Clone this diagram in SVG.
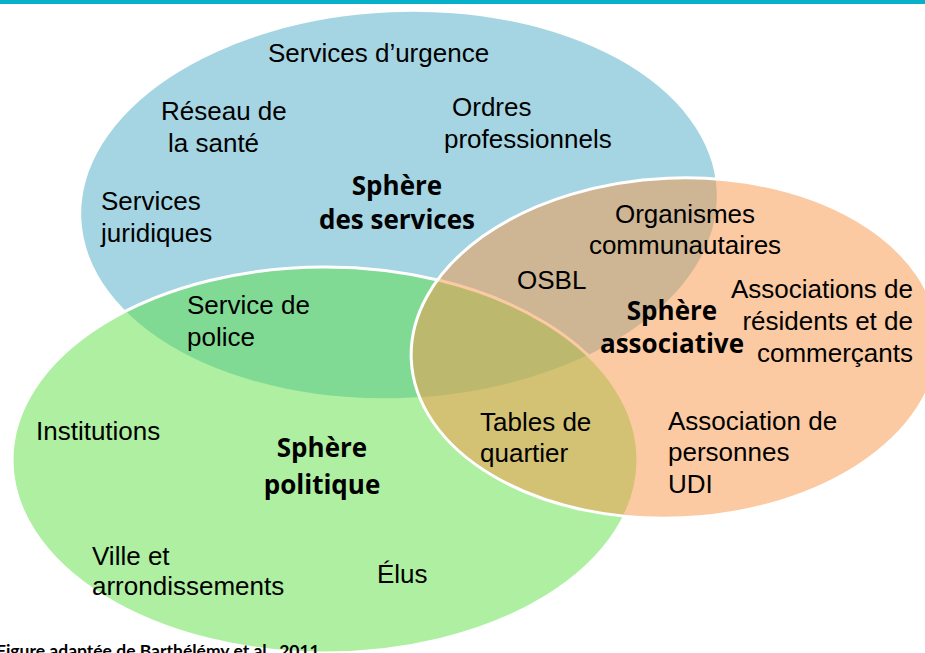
<svg xmlns="http://www.w3.org/2000/svg" width="925" height="653" viewBox="0 0 925 653">
<style>
.t{font-family:"Liberation Sans",Arial,sans-serif;font-size:26px;fill:#000}
.b{font-family:"Open Sans","Liberation Sans",sans-serif;font-size:26px;font-weight:bold;fill:#000;text-anchor:middle}
.e{stroke:#fff;stroke-width:3}
</style>
<rect x="0" y="0" width="925" height="653" fill="#fff"/>
<rect x="0" y="0" width="925" height="4" fill="#07b0c9"/>
<g id="sphere-services">
<ellipse cx="399" cy="205" rx="318" ry="193" transform="rotate(-2.5 399 205)" fill="#4BACC6" fill-opacity="0.5"/>
</g>
<g id="sphere-politique">
<ellipse class="e" cx="325" cy="460" rx="313" ry="193" fill="#5DDF45" fill-opacity="0.5"/>
</g>
<g id="sphere-associative">
<ellipse class="e" cx="675" cy="348" rx="264" ry="170" transform="rotate(-2.5 675 348)" fill="#F79646" fill-opacity="0.5"/>
</g>
<g id="labels-services">
<text class="t" x="268" y="62">Services d’urgence</text>
<text class="t" x="161" y="120">Réseau de</text>
<text class="t" x="168" y="152">la santé</text>
<text class="t" x="452" y="116">Ordres</text>
<text class="t" x="444" y="148">professionnels</text>
<text class="t" x="101" y="210">Services</text>
<text class="t" x="101" y="242">juridiques</text>
<text class="b" x="397" y="195">Sphère</text>
<text class="b" x="397" y="229">des services</text>
<text class="t" x="187" y="314">Service de</text>
<text class="t" x="187" y="346">police</text>
</g>
<g id="labels-associative">
<text class="t" x="517" y="289">OSBL</text>
<text class="t" x="685" y="223" text-anchor="middle">Organismes</text>
<text class="t" x="685" y="254" text-anchor="middle">communautaires</text>
<text class="b" x="672" y="320">Sphère</text>
<text class="b" x="672" y="353">associative</text>
<text class="t" x="913" y="298" text-anchor="end">Associations de</text>
<text class="t" x="913" y="330" text-anchor="end">résidents et de</text>
<text class="t" x="913" y="362" text-anchor="end">commerçants</text>
<text class="t" x="480" y="431">Tables de</text>
<text class="t" x="480" y="462">quartier</text>
<text class="t" x="668" y="430">Association de</text>
<text class="t" x="668" y="461">personnes</text>
<text class="t" x="668" y="493">UDI</text>
</g>
<g id="labels-politique">
<text class="t" x="36" y="440">Institutions</text>
<text class="b" x="322" y="457">Sphère</text>
<text class="b" x="322" y="494">politique</text>
<text class="t" x="92" y="565">Ville et</text>
<text class="t" x="92" y="595">arrondissements</text>
<text class="t" x="377" y="583">Élus</text>
</g>
<text x="-4" y="657" font-family="Lato,'Open Sans',sans-serif" font-size="17.5" font-weight="bold" fill="#000">Figure adaptée de Barthélémy et al., 2011</text>
</svg>
